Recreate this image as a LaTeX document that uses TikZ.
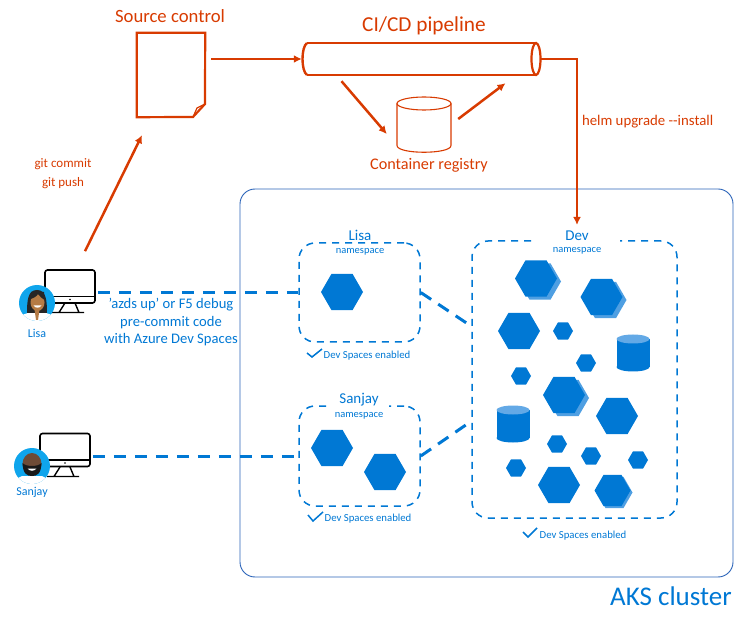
\documentclass[tikz,border=0pt]{standalone}
\usepackage{fontspec}
\setmainfont{Carlito}
\usepackage{xcolor}
\usetikzlibrary{positioning, arrows.meta, shapes.geometric, shadows}
\definecolor{azblue}{HTML}{0078D4}
\definecolor{azlight}{HTML}{63A9E6}
\definecolor{aksline}{HTML}{2A63B8}
\definecolor{gitred}{HTML}{D83B01}
\definecolor{avatarblue}{HTML}{0FA5EC}
\definecolor{lisaskin}{HTML}{B57B45}
\definecolor{sanjayskin}{HTML}{6E4B36}
\tikzset{
    bighex/.style={regular polygon, regular polygon sides=6, fill=azblue, minimum size=42pt, inner sep=0pt},
    smallhex/.style={regular polygon, regular polygon sides=6, fill=azblue, minimum size=20pt, inner sep=0pt},
    stackhex/.style={bighex, copy shadow={shadow xshift=4pt, shadow yshift=-3pt, fill=azlight!80!azblue, draw=none}},
    storebody/.style={rectangle, fill=azblue, minimum width=33pt, minimum height=28pt, inner sep=0pt},
    storeend/.style={ellipse, minimum width=33pt, minimum height=9pt, inner sep=0pt},
    nsbox/.style={draw=azblue, line width=1.5pt, rounded corners=16pt, dash pattern=on 7pt off 6pt, inner sep=0pt},
    nstitle/.style={text=azblue, fill=white, inner ysep=1pt, font=\fontsize{15}{17}\selectfont},
    nssub/.style={text=azblue, font=\fontsize{10.5}{12}\selectfont},
    nscheck/.style={text=azblue, font=\fontsize{10.75}{12}\selectfont},
    checkmark/.style={azblue, line width=1.5pt},
    redlabel/.style={text=gitred, font=\fontsize{13}{19.5}\selectfont, align=center},
    redtitle/.style={text=gitred, font=\fontsize{21.3}{24}\selectfont},
    bluelabel/.style={text=azblue, font=\fontsize{14.6}{17.5}\selectfont, align=center},
    userlabel/.style={text=azblue, font=\fontsize{12}{14}\selectfont},
    flow/.style={-{Latex[length=8pt, width=8pt]}, draw=gitred, line width=2.5pt},
    devlink/.style={azblue, line width=3pt, dash pattern=on 12.5pt off 8.5pt},
    screen/.style={draw=black, line width=1.6pt, rounded corners=2.5pt, fill=white, minimum width=50pt, minimum height=33pt, inner sep=0pt},
    avatar/.style={circle, fill=avatarblue, minimum size=36pt, inner sep=0pt}
}
\newcommand{\datastore}[2]{
    \node[storeend, fill=azblue] (#1bottom) at ([yshift=-14pt]#2) {};
    \node[storebody] (#1) at (#2) {};
    \node[storeend, fill=azlight] (#1top) at ([yshift=14pt]#2) {};
}

\begin{document}
\begin{tikzpicture}[x=1pt, y=-1pt]
\useasboundingbox (0,0) rectangle (750,620);

% Cluster
\node[draw=aksline, line width=0.9pt, rounded corners=15pt, minimum width=493pt, minimum height=388pt] (aks) at (486.5,383) {};
\node[text=azblue, font=\fontsize{27}{30}\selectfont] (akslabel) at (671,596) {AKS cluster};

% Source control and pipeline
\node[minimum width=68pt, minimum height=84pt, inner sep=0pt] (doc) at (171,75) {};
\draw[gitred, line width=2.2pt, line join=miter] (doc.north west) -- (doc.north east) -- (205,104) -- (193,117) -- (doc.south west) -- cycle;
\draw[gitred, line width=1.2pt] (193,117) -- (197,108) -- (205,104);
\node[redtitle, font=\fontsize{18.7}{20}\selectfont] (doclabel) at (170,16) {Source control};

\node[minimum width=239pt, minimum height=32pt, inner sep=0pt] (pipe) at (421.5,59) {};
\draw[gitred, line width=2.4pt] (307,43) -- (536,43) (307,75) -- (536,75);
\draw[gitred, line width=2.4pt] (307,43) .. controls (301,47) and (301,71) .. (307,75);
\draw[gitred, line width=2.2pt] (536,59) ellipse (4.5 and 16);
\node[redtitle] (pipelabel) at (424,26) {CI/CD pipeline};

\node[minimum width=54pt, minimum height=55pt, inner sep=0pt] (registry) at (424,124.5) {};
\draw[gitred, line width=1.1pt] (397,103.5) -- (397,145.5) .. controls (397,154.5) and (451,154.5) .. (451,145.5) -- (451,103.5);
\draw[gitred, line width=1.1pt] (424,103.5) ellipse (27 and 6.5);
\node[redlabel, font=\fontsize{16.2}{19}\selectfont] (reglabel) at (429,165) {Container registry};

% Namespaces
\node[nsbox, minimum width=121pt, minimum height=99pt] (lisans) at (359.5,292.5) {};
\node[nsbox, minimum width=121pt, minimum height=100pt] (sanjayns) at (359.5,456) {};
\node[nsbox, minimum width=205pt, minimum height=277pt] (devns) at (574.5,379.5) {};

\node[nstitle, minimum width=60pt] (lisatitle) at (360,235) {Lisa};
\node[nssub] (lisasub) at (360,252) {namespace};
\node[nstitle, minimum width=60pt] (sanjaytitle) at (359,400) {Sanjay};
\node[nssub] (sanjaysub) at (359,416) {namespace};
\node[nstitle, minimum width=85pt] (devtitle) at (577,236) {Dev};
\node[nssub] (devsub) at (577,251) {namespace};

\node[nscheck] (lisacheck) at (367,355.5) {Dev Spaces enabled};
\node[nscheck] (sanjaycheck) at (368,518.5) {Dev Spaces enabled};
\node[nscheck] (devcheck) at (583,535.5) {Dev Spaces enabled};
\draw[checkmark] (307,353) -- (312,357) -- (322,349);
\draw[checkmark] (308,515) -- (313,521) -- (323,512);
\draw[checkmark] (523,532) -- (528,537) -- (537,528);

% Services
\node[bighex] (lisa1) at (342,292) {};
\node[bighex] (sanjay1) at (332,448) {};
\node[bighex] (sanjay2) at (385,472) {};

\node[stackhex] (dev1) at (536,278.5) {};
\node[stackhex] (dev2) at (601.5,297) {};
\node[bighex] (dev3) at (519,331) {};
\node[smallhex] (dev4) at (563,331) {};
\datastore{dev5}{633,353}
\node[smallhex] (dev6) at (586,363) {};
\node[smallhex] (dev7) at (521,376) {};
\node[stackhex] (dev8) at (564,395) {};
\node[bighex] (dev9) at (617,416) {};
\datastore{dev10}{513,424}
\node[smallhex] (dev11) at (557,444) {};
\node[smallhex] (dev12) at (591,456) {};
\node[smallhex] (dev13) at (638,460) {};
\node[smallhex] (dev14) at (516,468) {};
\node[bighex] (dev15) at (559,485) {};
\node[bighex, minimum size=36pt, copy shadow={shadow xshift=2pt, shadow yshift=-2pt, fill=azlight!80!azblue, draw=none}] (dev16) at (612.5,490.5) {};

% Lisa
\node[screen] (lisascreen) at (70,286.5) {};
\draw[black, line width=1.6pt] (lisascreen.west |- 0,296.5) -- (lisascreen.east |- 0,296.5);
\draw[black, line width=1.4pt] (65,303) -- (59,312.5) (75,303) -- (79,312.5) (52,312.5) -- (84,312.5);
\fill[black] (70,299.5) circle (0.8);
\node[avatar] (lisaface) at (37,303) {};
\begin{scope}
\clip (lisaface) circle (18);
\fill[white] (19,316) -- (28,313) -- (46,313) -- (55,316) -- (55,322) -- (19,322) -- cycle;
\fill[black!85] (27,313) .. controls (27,300) and (28,290) .. (37,290) .. controls (46,290) and (47,300) .. (47,313) -- cycle;
\fill[lisaskin] (34,306) -- (40,306) -- (38,320) -- (36,320) -- cycle;
\fill[lisaskin] (37.5,302.5) ellipse (7 and 8.5);
\fill[black!85] (30.5,299) .. controls (34,298) and (37,296) .. (38,294) .. controls (40,297) and (42,298) .. (44.5,300) -- (44,292) -- (31,292) -- cycle;
\fill[white] (33.5,305.5) .. controls (36,308.5) and (39,308.5) .. (41.5,305.5) -- cycle;
\end{scope}
\node[userlabel] (lisalabel) at (37,333) {Lisa};

% Sanjay
\node[screen] (sanjayscreen) at (65,450) {};
\draw[black, line width=1.6pt] (sanjayscreen.west |- 0,460) -- (sanjayscreen.east |- 0,460);
\draw[black, line width=1.4pt] (60,467) -- (54,476.5) (70,467) -- (74,476.5) (47,476.5) -- (79,476.5);
\fill[black] (65,463) circle (0.8);
\node[avatar] (sanjayface) at (32,466) {};
\begin{scope}
\clip (sanjayface) circle (18);
\fill[white] (14,480) -- (22,476) -- (42,476) -- (50,480) -- (50,486) -- (14,486) -- cycle;
\fill[sanjayskin] (32,464) ellipse (9.5 and 11);
\fill[black!90] (22.5,463) .. controls (23,474) and (27,476) .. (32,476) .. controls (37,476) and (41,474) .. (41.5,463) .. controls (38,467) and (26,467) .. cycle;
\fill[white] (27.5,468.5) .. controls (30,471.5) and (34,471.5) .. (36.5,468.5) -- cycle;
\end{scope}
\node[userlabel] (sanjaylabel) at (32,492) {Sanjay};

% Connectors
\draw[flow, shorten <=6pt] (doc.east |- pipe.west) -- (pipe.west);
\draw[flow] ([xshift=-80pt,yshift=-6pt]pipe.south) -- ([xshift=-10pt,yshift=-9.5pt]registry.west);
\draw[flow] ([xshift=7pt,yshift=5.5pt]registry.east) -- ([xshift=84pt,yshift=-8pt]pipe.south);
\draw[flow, line width=2.2pt, shorten >=5pt] (pipe.east) -| (devtitle.north);
\draw[flow] ([xshift=15pt,yshift=18pt]lisascreen.north) -- ([xshift=-29pt,yshift=-18pt]doc.south);
\node[redlabel, font=\fontsize{14.8}{18}\selectfont, anchor=west] (helmlabel) at (578.5,122) {helm upgrade -{}-install};
\node[redlabel] (gitlabel) at (63,173.5) {git commit\\git push};

\draw[devlink, shorten <=2pt] (lisascreen.east |- lisans.west) -- (lisans.west);
\draw[devlink, shorten <=2pt] (sanjayscreen.east |- sanjayns.west) -- (sanjayns.west);
\draw[devlink] (lisans.east) -- ([yshift=56pt,xshift=-4pt]devns.west);
\draw[devlink] (sanjayns.east) -- ([yshift=-44.5pt,xshift=-4pt]devns.west);
\node[bluelabel] (upnote) at (171,322.5) {'azds up' or F5 debug\\pre-commit code\\with Azure Dev Spaces};

\end{tikzpicture}
\end{document}
